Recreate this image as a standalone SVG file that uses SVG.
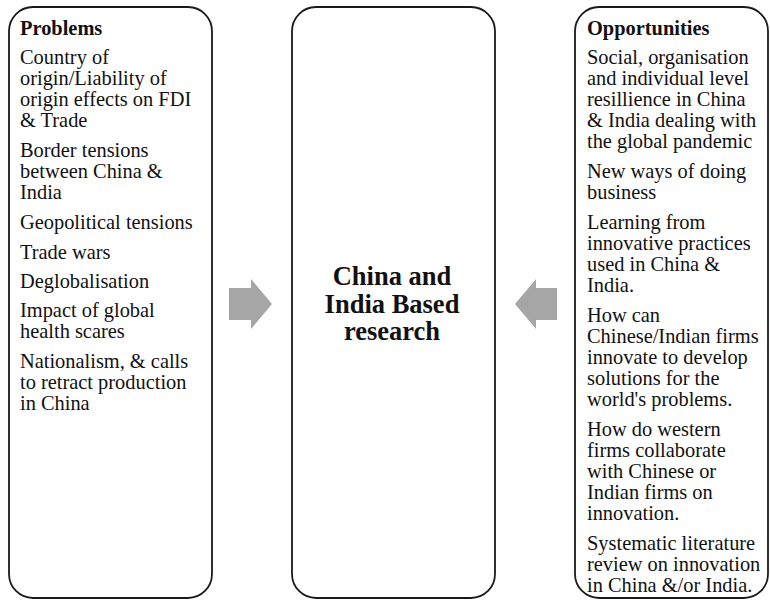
<svg xmlns="http://www.w3.org/2000/svg" width="770" height="600" viewBox="0 0 770 600">
<style>
.box{fill:#fff;stroke:#1a1a1a;stroke-width:1.8}
.t{font-family:"Liberation Serif","Times New Roman",serif;font-size:20.4px;fill:#111}
.h{font-weight:bold}
.c{font-family:"Liberation Serif","Times New Roman",serif;font-size:26.5px;font-weight:bold;fill:#111;text-anchor:middle}
.arr{fill:#a6a6a6}
</style>
<rect width="770" height="600" fill="#fff"/>
<g id="problems">
<rect class="box" x="9" y="7" width="203" height="591" rx="24"/>
<text class="t h" x="20" y="35">Problems</text>
<text class="t" x="20" y="64">Country of</text>
<text class="t" x="20" y="85">origin/Liability of</text>
<text class="t" x="20" y="106">origin effects on FDI</text>
<text class="t" x="20" y="127">&amp; Trade</text>
<text class="t" x="20" y="157">Border tensions</text>
<text class="t" x="20" y="178">between China &amp;</text>
<text class="t" x="20" y="199">India</text>
<text class="t" x="20" y="229">Geopolitical tensions</text>
<text class="t" x="20" y="259">Trade wars</text>
<text class="t" x="20" y="288">Deglobalisation</text>
<text class="t" x="20" y="317">Impact of global</text>
<text class="t" x="20" y="338">health scares</text>
<text class="t" x="20" y="368">Nationalism, &amp; calls</text>
<text class="t" x="20" y="389">to retract production</text>
<text class="t" x="20" y="410">in China</text>
</g>
<g id="center">
<rect class="box" x="292" y="7" width="203" height="591" rx="24"/>
<text class="c" x="392" y="285">China and</text>
<text class="c" x="392" y="313">India Based</text>
<text class="c" x="392" y="340">research</text>
</g>
<g id="opportunities">
<rect class="box" x="575" y="7" width="193" height="591" rx="24"/>
<text class="t h" x="587" y="35">Opportunities</text>
<text class="t" x="587" y="64">Social, organisation</text>
<text class="t" x="587" y="85">and individual level</text>
<text class="t" x="587" y="106">resillience in China</text>
<text class="t" x="587" y="127">&amp; India dealing with</text>
<text class="t" x="587" y="148">the global pandemic</text>
<text class="t" x="587" y="178">New ways of doing</text>
<text class="t" x="587" y="199">business</text>
<text class="t" x="587" y="229">Learning from</text>
<text class="t" x="587" y="250">innovative practices</text>
<text class="t" x="587" y="271">used in China &amp;</text>
<text class="t" x="587" y="292">India.</text>
<text class="t" x="587" y="322">How can</text>
<text class="t" x="587" y="343">Chinese/Indian firms</text>
<text class="t" x="587" y="364">innovate to develop</text>
<text class="t" x="587" y="385">solutions for the</text>
<text class="t" x="587" y="406">world's problems.</text>
<text class="t" x="587" y="436">How do western</text>
<text class="t" x="587" y="457">firms collaborate</text>
<text class="t" x="587" y="478">with Chinese or</text>
<text class="t" x="587" y="499">Indian firms on</text>
<text class="t" x="587" y="520">innovation.</text>
<text class="t" x="587" y="550">Systematic literature</text>
<text class="t" x="587" y="571">review on innovation</text>
<text class="t" x="587" y="592">in China &amp;/or India.</text>
</g>
<g id="connectors">
<polygon class="arr" points="229,288 251,288 251,279 272,304 251,329 251,320 229,320"/>
<polygon class="arr" points="557,288 536,288 536,279 515,304 536,329 536,320 557,320"/>
</g>
</svg>
